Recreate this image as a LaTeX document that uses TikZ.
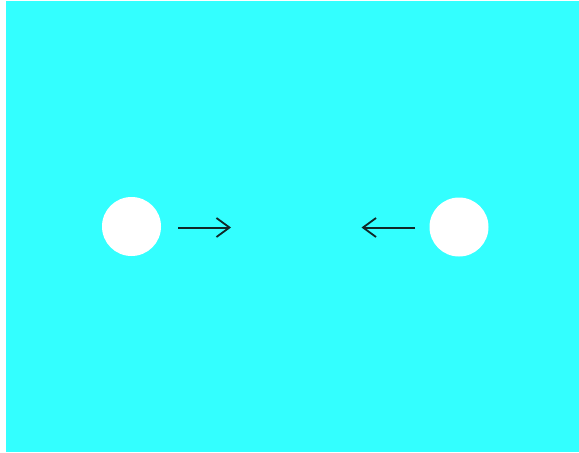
\documentclass[tikz,border=0pt]{standalone}
\usetikzlibrary{arrows.meta}
\definecolor{bgcyan}{HTML}{33FFFF}
\definecolor{arrowdark}{HTML}{102828}
\tikzset{
  ball/.style={circle, fill=white, draw=none, minimum size=59pt, inner sep=0pt},
  motion/.style={draw=arrowdark, line width=2pt, -{Straight Barb[length=13pt, width=19pt, line width=1.8pt]}}
}
\begin{document}
\begin{tikzpicture}[x=1pt, y=-1pt]
  \useasboundingbox (0,0) rectangle (579,453);
  \fill[white] (0,0) rectangle (579,453);
  \fill[bgcyan] (6,1) rectangle (579,452);
  \node[ball] (left) at (131.5,226.5) {};
  \node[ball] (right) at (459,227) {};
  \coordinate (lstart) at (178,227.5);
  \coordinate (lend) at (231,227.5);
  \coordinate (rstart) at (415,227.5);
  \coordinate (rend) at (361.5,227.5);
  \draw[motion] (lstart) -- (lend);
  \draw[motion] (rstart) -- (rend);
\end{tikzpicture}
\end{document}
